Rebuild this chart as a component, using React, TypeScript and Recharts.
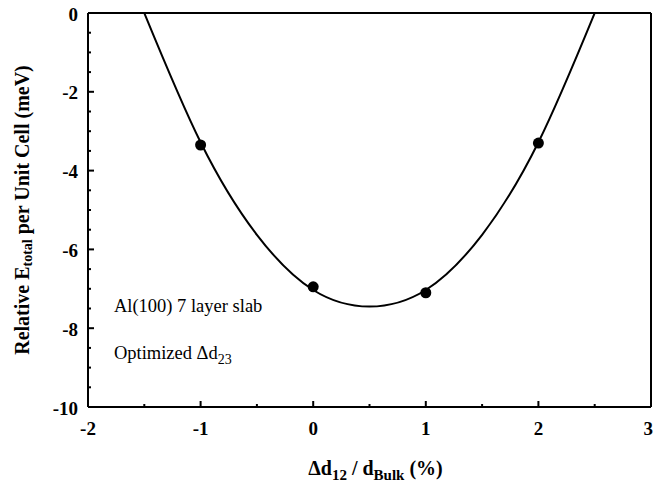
import React from "react";
import {
	ComposedChart,
	Line,
	Scatter,
	XAxis,
	YAxis,
	ReferenceDot,
} from "recharts";

// measured slab energies
const spacingPct = [-1, 0, 1, 2];
const energyMeV = [-3.35, -6.95, -7.1, -3.3];

// fitted curve
const fitPct = [-1.5, -1, -0.5, 0, 0.5, 1, 1.5, 2, 2.5];
const fitMeV = [0, -3.28, -5.63, -7.03, -7.45, -7.03, -5.63, -3.28, 0];

const xTicks = [-2, -1.5, -1, -0.5, 0, 0.5, 1, 1.5, 2, 2.5, 3];
const yTicks = [
	-10, -9.5, -9, -8.5, -8, -7.5, -7, -6.5, -6, -5.5, -5, -4.5, -4, -3.5, -3,
	-2.5, -2, -1.5, -1, -0.5, 0,
];

const measured = spacingPct.map((x, i) => ({ x, e: energyMeV[i] }));
const fit = fitPct.map((x, i) => ({ x, e: fitMeV[i] }));

const FONT = "'Liberation Serif', 'Times New Roman', serif";

const isMajor = (v: number) => Number.isInteger(v);
const isLabelled = (v: number) => Number.isInteger(v) && v % 2 === 0;
const lastX = xTicks[xTicks.length - 1];

const BottomTick = (props: any) => {
	const { x, y, payload } = props;
	const v = payload.value;
	// last label sits on the chart edge, keep it inside
	const edge = v === lastX;
	return (
		<g>
			<line x1={x} x2={x} y1={y} y2={y - (isMajor(v) ? 6 : 3)} stroke="#000" strokeWidth={2} />
			{isMajor(v) && (
				<text
					x={edge ? x + 2 : x}
					y={y + 28}
					textAnchor={edge ? "end" : "middle"}
					fontFamily={FONT}
					fontWeight="bold"
					fontSize={19}
					fill="#000"
				>
					{v}
				</text>
			)}
		</g>
	);
};

const TopTick = (props: any) => {
	const { x, y, payload } = props;
	const v = payload.value;
	return <line x1={x} x2={x} y1={y} y2={y + (isMajor(v) ? 6 : 3)} stroke="#000" strokeWidth={2} />;
};

const LeftTick = (props: any) => {
	const { x, y, payload } = props;
	const v = payload.value;
	return (
		<g>
			<line x1={x} x2={x + (isLabelled(v) ? 6 : 3)} y1={y} y2={y} stroke="#000" strokeWidth={2} />
			{isLabelled(v) && (
				<text x={x - 10} y={y} dy="0.4em" textAnchor="end" fontFamily={FONT} fontWeight="bold" fontSize={19} fill="#000">
					{v}
				</text>
			)}
		</g>
	);
};

const RightTick = (props: any) => {
	const { x, y, payload } = props;
	const v = payload.value;
	return <line x1={x} x2={x - (isLabelled(v) ? 6 : 3)} y1={y} y2={y} stroke="#000" strokeWidth={2} />;
};

const XTitle = (props: any) => {
	const { viewBox } = props;
	const cx = viewBox.x + viewBox.width / 2 + 6;
	return (
		<text x={cx} y={viewBox.y + 68} textAnchor="middle" fontFamily={FONT} fontWeight="bold" fontSize={20} fill="#000">
			Δd
			<tspan fontSize={15} dy={5}>12</tspan>
			<tspan dy={-5}> / d</tspan>
			<tspan fontSize={15} dy={5}>Bulk</tspan>
			<tspan dy={-5}> (%)</tspan>
		</text>
	);
};

const YTitle = (props: any) => {
	const { viewBox } = props;
	const cx = 22;
	const cy = viewBox.y + viewBox.height / 2;
	return (
		<text
			x={cx}
			y={cy}
			transform={`rotate(-90 ${cx} ${cy})`}
			textAnchor="middle"
			dominantBaseline="central"
			fontFamily={FONT}
			fontWeight="bold"
			fontSize={20}
			fill="#000"
		>
			Relative E
			<tspan fontSize={14} dy={5}>total</tspan>
			<tspan dy={-5}> per Unit Cell (meV)</tspan>
		</text>
	);
};

const Note = ({ text, sub }: { text: string; sub?: string }) => (props: any) => {
	const { viewBox } = props;
	return (
		<text x={viewBox.x} y={viewBox.y} fontFamily={FONT} fontSize={18.5} fill="#000">
			{text}
			{sub && (
				<tspan fontSize={14} dy={5}>
					{sub}
				</tspan>
			)}
		</text>
	);
};

const Dot = (props: any) => <circle cx={props.cx} cy={props.cy} r={5.5} fill="#000" />;

export default function App() {
	return (
		<div style={{ position: "absolute", left: 0, top: 0, background: "#fff" }}>
			<ComposedChart width={654} height={484} margin={{ top: 12, right: 2, bottom: 17, left: 0 }}>
				<XAxis
					xAxisId="b"
					dataKey="x"
					type="number"
					domain={[-2, 3]}
					ticks={xTicks}
					interval={0}
					tickSize={0}
					tickMargin={0}
					tick={<BottomTick />}
					axisLine={{ stroke: "#000", strokeWidth: 2 }}
					height={60}
					label={<XTitle />}
				/>
				<XAxis
					xAxisId="t"
					orientation="top"
					type="number"
					domain={[-2, 3]}
					ticks={xTicks}
					interval={0}
					tickSize={0}
					tickMargin={0}
					tick={<TopTick />}
					axisLine={{ stroke: "#000", strokeWidth: 2 }}
					height={1}
				/>
				<YAxis
					yAxisId="l"
					dataKey="e"
					type="number"
					domain={[-10, 0]}
					ticks={yTicks}
					interval={0}
					tickSize={0}
					tickMargin={0}
					tick={<LeftTick />}
					axisLine={{ stroke: "#000", strokeWidth: 2 }}
					width={88}
					label={<YTitle />}
				/>
				<YAxis
					yAxisId="r"
					orientation="right"
					type="number"
					domain={[-10, 0]}
					ticks={yTicks}
					interval={0}
					tickSize={0}
					tickMargin={0}
					tick={<RightTick />}
					axisLine={{ stroke: "#000", strokeWidth: 2 }}
					width={1}
				/>
				<Line
					xAxisId="b"
					yAxisId="l"
					data={fit}
					dataKey="e"
					type="natural"
					stroke="#000"
					strokeWidth={2}
					dot={false}
					isAnimationActive={false}
				/>
				<Scatter
					xAxisId="b"
					yAxisId="l"
					data={measured}
					dataKey="e"
					fill="#000"
					shape={<Dot />}
					isAnimationActive={false}
				/>
				<ReferenceDot
					xAxisId="b"
					yAxisId="l"
					x={-1.77}
					y={-7.6}
					r={0}
					fill="none"
					stroke="none"
					label={Note({ text: "Al(100) 7 layer slab" })}
				/>
				<ReferenceDot
					xAxisId="b"
					yAxisId="l"
					x={-1.77}
					y={-8.78}
					r={0}
					fill="none"
					stroke="none"
					label={Note({ text: "Optimized Δd", sub: "23" })}
				/>
			</ComposedChart>
		</div>
	);
}
